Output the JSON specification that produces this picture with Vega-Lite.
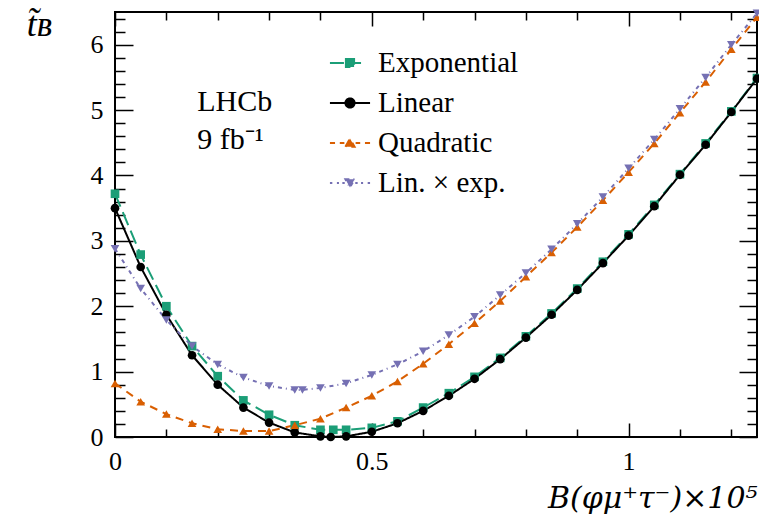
{
  "$schema": "https://vega.github.io/schema/vega-lite/v6.json",
  "width": 642,
  "height": 425,
  "autosize": {"type": "none"},
  "padding": {"left": 115, "top": 12, "right": 2, "bottom": 77},
  "background": "white",
  "config": {
    "view": {"stroke": "black", "strokeWidth": 2},
    "font": "Liberation Serif",
    "axis": {"grid": false, "domain": false, "tickColor": "black", "tickWidth": 1.5, "labelColor": "black", "labelFont": "Liberation Serif", "labelFontSize": 26, "titleColor": "black"}
  },
  "datasets": {
    "curves": [
      {"series": "Exponential", "x": 0, "t": 3.72},
      {"series": "Exponential", "x": 0.05, "t": 2.79},
      {"series": "Exponential", "x": 0.1, "t": 2.0},
      {"series": "Exponential", "x": 0.15, "t": 1.39},
      {"series": "Exponential", "x": 0.2, "t": 0.93},
      {"series": "Exponential", "x": 0.25, "t": 0.56},
      {"series": "Exponential", "x": 0.3, "t": 0.34},
      {"series": "Exponential", "x": 0.35, "t": 0.18},
      {"series": "Exponential", "x": 0.4, "t": 0.11},
      {"series": "Exponential", "x": 0.425, "t": 0.11},
      {"series": "Exponential", "x": 0.45, "t": 0.11},
      {"series": "Exponential", "x": 0.5, "t": 0.14},
      {"series": "Exponential", "x": 0.55, "t": 0.24},
      {"series": "Exponential", "x": 0.6, "t": 0.45},
      {"series": "Exponential", "x": 0.65, "t": 0.67},
      {"series": "Exponential", "x": 0.7, "t": 0.92},
      {"series": "Exponential", "x": 0.75, "t": 1.21},
      {"series": "Exponential", "x": 0.8, "t": 1.54},
      {"series": "Exponential", "x": 0.85, "t": 1.89},
      {"series": "Exponential", "x": 0.9, "t": 2.27},
      {"series": "Exponential", "x": 0.95, "t": 2.68},
      {"series": "Exponential", "x": 1.0, "t": 3.1},
      {"series": "Exponential", "x": 1.05, "t": 3.55},
      {"series": "Exponential", "x": 1.1, "t": 4.02},
      {"series": "Exponential", "x": 1.15, "t": 4.49},
      {"series": "Exponential", "x": 1.2, "t": 4.98},
      {"series": "Exponential", "x": 1.25, "t": 5.49},
      {"series": "Linear", "x": 0, "t": 3.5},
      {"series": "Linear", "x": 0.05, "t": 2.6},
      {"series": "Linear", "x": 0.1, "t": 1.87},
      {"series": "Linear", "x": 0.15, "t": 1.25},
      {"series": "Linear", "x": 0.2, "t": 0.8},
      {"series": "Linear", "x": 0.25, "t": 0.45},
      {"series": "Linear", "x": 0.3, "t": 0.22},
      {"series": "Linear", "x": 0.35, "t": 0.07},
      {"series": "Linear", "x": 0.4, "t": 0.01},
      {"series": "Linear", "x": 0.42, "t": 0.0},
      {"series": "Linear", "x": 0.45, "t": 0.01},
      {"series": "Linear", "x": 0.5, "t": 0.08},
      {"series": "Linear", "x": 0.55, "t": 0.21},
      {"series": "Linear", "x": 0.6, "t": 0.4},
      {"series": "Linear", "x": 0.65, "t": 0.63},
      {"series": "Linear", "x": 0.7, "t": 0.89},
      {"series": "Linear", "x": 0.75, "t": 1.19},
      {"series": "Linear", "x": 0.8, "t": 1.52},
      {"series": "Linear", "x": 0.85, "t": 1.87},
      {"series": "Linear", "x": 0.9, "t": 2.25},
      {"series": "Linear", "x": 0.95, "t": 2.66},
      {"series": "Linear", "x": 1.0, "t": 3.08},
      {"series": "Linear", "x": 1.05, "t": 3.53},
      {"series": "Linear", "x": 1.1, "t": 4.01},
      {"series": "Linear", "x": 1.15, "t": 4.47},
      {"series": "Linear", "x": 1.2, "t": 4.97},
      {"series": "Linear", "x": 1.25, "t": 5.48},
      {"series": "Quadratic", "x": 0, "t": 0.82},
      {"series": "Quadratic", "x": 0.05, "t": 0.54},
      {"series": "Quadratic", "x": 0.1, "t": 0.35},
      {"series": "Quadratic", "x": 0.15, "t": 0.21},
      {"series": "Quadratic", "x": 0.2, "t": 0.12},
      {"series": "Quadratic", "x": 0.25, "t": 0.09},
      {"series": "Quadratic", "x": 0.3, "t": 0.09},
      {"series": "Quadratic", "x": 0.35, "t": 0.18},
      {"series": "Quadratic", "x": 0.4, "t": 0.28},
      {"series": "Quadratic", "x": 0.45, "t": 0.45},
      {"series": "Quadratic", "x": 0.5, "t": 0.63},
      {"series": "Quadratic", "x": 0.55, "t": 0.85},
      {"series": "Quadratic", "x": 0.6, "t": 1.12},
      {"series": "Quadratic", "x": 0.65, "t": 1.42},
      {"series": "Quadratic", "x": 0.7, "t": 1.74},
      {"series": "Quadratic", "x": 0.75, "t": 2.08},
      {"series": "Quadratic", "x": 0.8, "t": 2.45},
      {"series": "Quadratic", "x": 0.85, "t": 2.82},
      {"series": "Quadratic", "x": 0.9, "t": 3.21},
      {"series": "Quadratic", "x": 0.95, "t": 3.62},
      {"series": "Quadratic", "x": 1.0, "t": 4.05},
      {"series": "Quadratic", "x": 1.05, "t": 4.49},
      {"series": "Quadratic", "x": 1.1, "t": 4.96},
      {"series": "Quadratic", "x": 1.15, "t": 5.43},
      {"series": "Quadratic", "x": 1.2, "t": 5.93},
      {"series": "Quadratic", "x": 1.25, "t": 6.42},
      {"series": "Lin. × exp.", "x": 0, "t": 2.88},
      {"series": "Lin. × exp.", "x": 0.05, "t": 2.27},
      {"series": "Lin. × exp.", "x": 0.1, "t": 1.79},
      {"series": "Lin. × exp.", "x": 0.15, "t": 1.39},
      {"series": "Lin. × exp.", "x": 0.2, "t": 1.11},
      {"series": "Lin. × exp.", "x": 0.25, "t": 0.91},
      {"series": "Lin. × exp.", "x": 0.3, "t": 0.78},
      {"series": "Lin. × exp.", "x": 0.35, "t": 0.72},
      {"series": "Lin. × exp.", "x": 0.365, "t": 0.72},
      {"series": "Lin. × exp.", "x": 0.4, "t": 0.75},
      {"series": "Lin. × exp.", "x": 0.45, "t": 0.82},
      {"series": "Lin. × exp.", "x": 0.5, "t": 0.95},
      {"series": "Lin. × exp.", "x": 0.55, "t": 1.11},
      {"series": "Lin. × exp.", "x": 0.6, "t": 1.31},
      {"series": "Lin. × exp.", "x": 0.65, "t": 1.56},
      {"series": "Lin. × exp.", "x": 0.7, "t": 1.84},
      {"series": "Lin. × exp.", "x": 0.75, "t": 2.17},
      {"series": "Lin. × exp.", "x": 0.8, "t": 2.51},
      {"series": "Lin. × exp.", "x": 0.85, "t": 2.87},
      {"series": "Lin. × exp.", "x": 0.9, "t": 3.26},
      {"series": "Lin. × exp.", "x": 0.95, "t": 3.67},
      {"series": "Lin. × exp.", "x": 1.0, "t": 4.11},
      {"series": "Lin. × exp.", "x": 1.05, "t": 4.55},
      {"series": "Lin. × exp.", "x": 1.1, "t": 5.02},
      {"series": "Lin. × exp.", "x": 1.15, "t": 5.5},
      {"series": "Lin. × exp.", "x": 1.2, "t": 6.0},
      {"series": "Lin. × exp.", "x": 1.25, "t": 6.48}
    ]
  },
  "data": {"name": "curves"},
  "resolve": {"axis": {"x": "independent", "y": "independent"}},
  "layer": [
    {
      "mark": {"type": "line", "strokeWidth": 2},
      "encoding": {
        "x": {"field": "x", "type": "quantitative", "scale": {"domain": [0, 1.25], "nice": false, "zero": false},
          "axis": {"orient": "bottom", "values": [0, 0.5, 1], "format": "~g", "tickSize": -14, "labelPadding": 25, "labelFlush": false, "labelBound": false, "labelOverlap": false,
            "title": "B(φμ⁺τ⁻)×10⁵", "titleFont": "DejaVu Serif", "titleFontStyle": "italic", "titleFontWeight": "normal", "titleFontSize": 30, "titleAnchor": "end", "titleAlign": "right", "titleX": 642, "titleY": 70, "titleBaseline": "alphabetic"}},
        "y": {"field": "t", "type": "quantitative", "scale": {"domain": [0, 6.5], "nice": false},
          "axis": {"orient": "left", "values": [0, 1, 2, 3, 4, 5, 6], "tickSize": -18, "labelPadding": 30, "labelFlush": false, "labelBound": false, "labelOverlap": false,
            "title": "t̃ʙ", "titleFont": "Liberation Serif", "titleFontStyle": "italic", "titleFontWeight": "normal", "titleFontSize": 36, "titleAngle": 0, "titleAlign": "center", "titleBaseline": "middle", "titleX": -76, "titleY": 12}},
        "color": {"field": "series", "type": "nominal",
          "scale": {"domain": ["Exponential", "Linear", "Quadratic", "Lin. × exp."], "range": ["#1b9e77", "#000000", "#d95f02", "#7570b3"]},
          "legend": {
            "orient": "none", "legendX": 217, "legendY": 33, "title": null, "padding": 0, "rowPadding": 7,
            "symbolSize": 1156, "labelOffset": 10, "labelFont": "Liberation Serif", "labelFontSize": 29, "labelColor": "black", "labelLimit": 300,
            "encode": {"symbols": {"update": {
              "shape": {"signal": "datum.value === 'Exponential' ? 'M-1.18,0H-0.35M0.3,0H0.65M-0.24,-0.24H0.24V0.24H-0.24Z' : datum.value === 'Linear' ? 'M-1.18,0H1.18M-0.27,0A0.27,0.27 0 1,0 0.27,0A0.27,0.27 0 1,0 -0.27,0Z' : datum.value === 'Quadratic' ? 'M-1.18,0H-0.88M-0.6,0H-0.33M0.33,0H0.6M0.88,0H1.18M-0.27,0.22L0,-0.26L0.27,0.22Z' : 'M-1.18,0H-1.04M-0.77,0H-0.65M-0.45,0H-0.31M0.31,0H0.45M0.65,0H0.77M1.04,0H1.18M-0.27,-0.22L0.27,-0.22L0,0.26Z'"},
              "fill": {"signal": "datum.value === 'Exponential' ? '#1b9e77' : datum.value === 'Linear' ? '#000000' : datum.value === 'Quadratic' ? '#d95f02' : '#7570b3'"},
              "stroke": {"signal": "datum.value === 'Exponential' ? '#1b9e77' : datum.value === 'Linear' ? '#000000' : datum.value === 'Quadratic' ? '#d95f02' : '#7570b3'"},
              "strokeDash": {"value": []},
              "strokeWidth": {"value": 2},
              "size": {"value": 1156},
              "opacity": {"value": 1},
              "fillOpacity": {"value": 1}
            }}}
          }},
        "strokeDash": {"field": "series", "type": "nominal",
          "scale": {"domain": ["Exponential", "Linear", "Quadratic", "Lin. × exp."], "range": [[14, 6], [1, 0], [8, 6], [4, 4, 1, 4]]},
          "legend": null}
      }
    },
    {
      "transform": [{"filter": "datum.series === 'Exponential'"}],
      "mark": {"type": "point", "filled": true, "size": 75, "opacity": 1, "shape": "square", "color": "#1b9e77"},
      "encoding": {
        "x": {"field": "x", "type": "quantitative",
          "axis": {"orient": "top", "values": [0, 0.5, 1], "tickSize": -14, "labels": false, "title": null}},
        "y": {"field": "t", "type": "quantitative",
          "axis": {"orient": "right", "values": [0, 1, 2, 3, 4, 5, 6], "tickSize": -18, "labels": false, "title": null}}
      }
    },
    {
      "transform": [{"filter": "datum.series === 'Linear'"}],
      "mark": {"type": "point", "filled": true, "size": 75, "opacity": 1, "shape": "circle", "color": "#000000"},
      "encoding": {
        "x": {"field": "x", "type": "quantitative",
          "axis": {"orient": "bottom", "values": [0.1, 0.2, 0.3, 0.4, 0.6, 0.7, 0.8, 0.9, 1.1, 1.2], "tickSize": -8, "labels": false, "title": null}},
        "y": {"field": "t", "type": "quantitative",
          "axis": {"orient": "left", "values": [0.2, 0.4, 0.6, 0.8, 1.2, 1.4, 1.6, 1.8, 2.2, 2.4, 2.6, 2.8, 3.2, 3.4, 3.6, 3.8, 4.2, 4.4, 4.6, 4.8, 5.2, 5.4, 5.6, 5.8, 6.2, 6.4], "tickSize": -10, "labels": false, "title": null}}
      }
    },
    {
      "transform": [{"filter": "datum.series === 'Quadratic'"}],
      "mark": {"type": "point", "filled": true, "size": 75, "opacity": 1, "shape": "triangle-up", "color": "#d95f02"},
      "encoding": {
        "x": {"field": "x", "type": "quantitative",
          "axis": {"orient": "top", "values": [0.1, 0.2, 0.3, 0.4, 0.6, 0.7, 0.8, 0.9, 1.1, 1.2], "tickSize": -8, "labels": false, "title": null}},
        "y": {"field": "t", "type": "quantitative",
          "axis": {"orient": "right", "values": [0.2, 0.4, 0.6, 0.8, 1.2, 1.4, 1.6, 1.8, 2.2, 2.4, 2.6, 2.8, 3.2, 3.4, 3.6, 3.8, 4.2, 4.4, 4.6, 4.8, 5.2, 5.4, 5.6, 5.8, 6.2, 6.4], "tickSize": -10, "labels": false, "title": null}}
      }
    },
    {
      "transform": [{"filter": "datum.series === 'Lin. × exp.'"}],
      "mark": {"type": "point", "filled": true, "size": 75, "opacity": 1, "shape": "triangle-down", "color": "#7570b3"},
      "encoding": {
        "x": {"field": "x", "type": "quantitative", "axis": null},
        "y": {"field": "t", "type": "quantitative", "axis": null}
      }
    },
    {
      "data": {"values": [{"label": "LHCb"}]},
      "mark": {"type": "text", "align": "left", "baseline": "top", "font": "Liberation Serif", "fontSize": 30, "fontWeight": "normal", "lineHeight": 38, "color": "black"},
      "encoding": {
        "x": {"datum": 0.16, "type": "quantitative", "axis": null},
        "y": {"datum": 5.36, "type": "quantitative", "axis": null},
        "text": {"value": ["LHCb", "9 fb⁻¹"]}
      }
    }
  ]
}
